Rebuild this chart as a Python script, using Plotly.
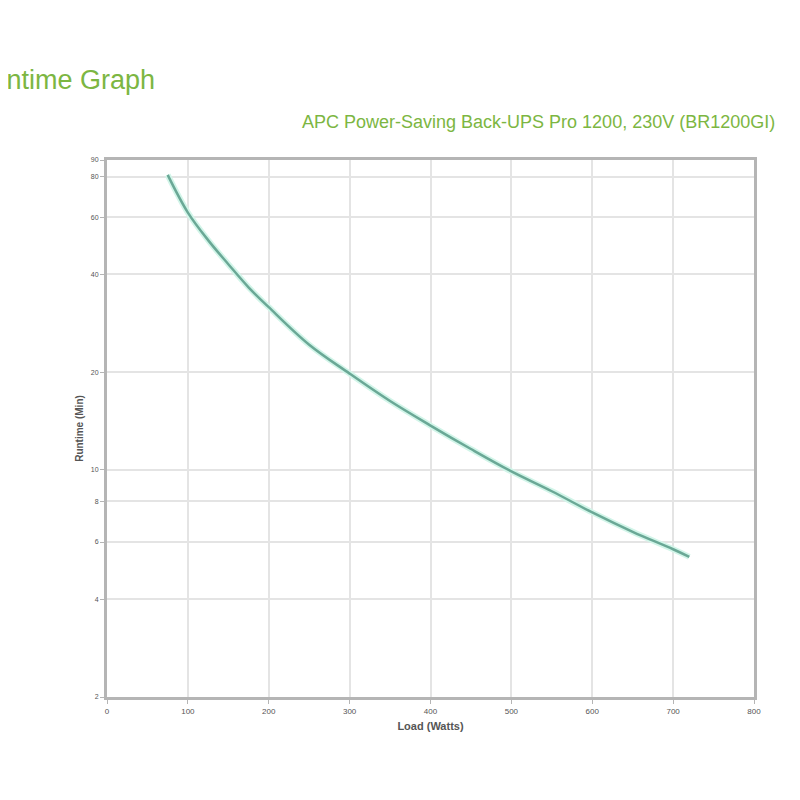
import plotly.graph_objects as go

load_w = [75, 100, 125, 150, 175, 200, 250, 300, 350, 400, 450, 500, 550, 600, 650, 700, 720]
runtime_min = [81, 62, 51, 43, 36.5, 31.7, 24.3, 19.8, 16.3, 13.7, 11.6, 9.9, 8.6, 7.4, 6.45, 5.7, 5.4]

x_ticks = [0, 100, 200, 300, 400, 500, 600, 700, 800]
y_ticks = [2, 4, 6, 8, 10, 20, 40, 60, 80, 90]

title_text = "Runtime Graph"
subtitle_text = "APC Power-Saving Back-UPS Pro 1200, 230V (BR1200GI)"
green = "#7cb642"

# page body has an 8px default margin, so shift everything by -8
L, T = 99, 152
PW, PH = 647, 537

fig = go.Figure()
fig.add_trace(go.Scatter(x=load_w, y=runtime_min, mode="lines", line=dict(color="#d2f5e9", width=6, shape="spline"), hoverinfo="skip", showlegend=False))
fig.add_trace(go.Scatter(x=load_w, y=runtime_min, mode="lines", line=dict(color="#6aa896", width=2.5, shape="spline"), showlegend=False))

fig.update_layout(
    width=800, height=800,
    margin=dict(l=L, r=800 - L - PW, t=T, b=800 - T - PH),
    paper_bgcolor="white", plot_bgcolor="white",
    font=dict(family="Liberation Sans, Arial, sans-serif", color="#444"),
    xaxis=dict(range=[0, 800], tickvals=x_ticks, ticktext=[str(v) for v in x_ticks],
               showgrid=True, gridcolor="#e4e4e4", gridwidth=2,
               showline=True, linecolor="#b5b5b5", linewidth=3, mirror=True,
               ticks="outside", ticklen=4, tickcolor="#b5b5b5",
               tickfont=dict(size=8, color="#555"), zeroline=False,
               title=dict(text="<b>Load (Watts)</b>", font=dict(size=11, color="#555"), standoff=8)),
    yaxis=dict(type="log", range=[0.30103, 1.95424], tickvals=y_ticks, ticktext=[str(v) for v in y_ticks],
               showgrid=True, gridcolor="#e4e4e4", gridwidth=2,
               showline=True, linecolor="#b5b5b5", linewidth=3, mirror=True,
               ticks="outside", ticklen=4, tickcolor="#b5b5b5",
               tickfont=dict(size=7, color="#555"), zeroline=False,
               title=dict(text="<b>Runtime (Min)</b>", font=dict(size=10, color="#555"), standoff=6)),
    annotations=[
        dict(text=title_text, xref="paper", yref="paper", x=(157 - 8 - L) / PW, y=1 + (T - (80 - 8)) / PH,
             xanchor="right", yanchor="middle", showarrow=False,
             font=dict(size=27, color=green, family="Liberation Sans, Arial, sans-serif")),
        dict(text=subtitle_text, xref="paper", yref="paper", x=(300 - 8 - L) / PW, y=1 + (T - (122 - 8)) / PH,
             xanchor="left", yanchor="middle", showarrow=False,
             font=dict(size=18, color=green, family="Liberation Sans, Arial, sans-serif")),
    ],
)

fig.write_html("out.html")
